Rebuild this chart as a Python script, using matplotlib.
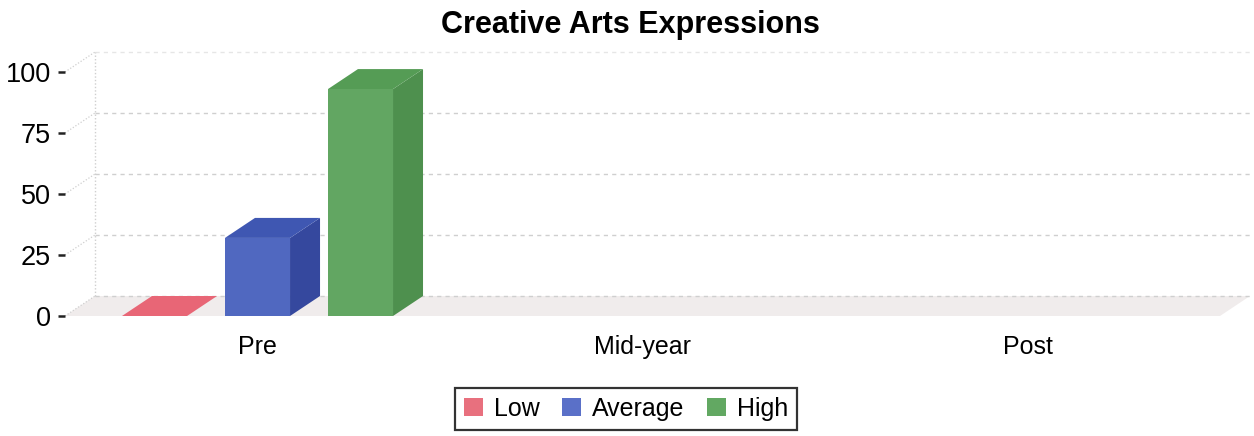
import matplotlib
matplotlib.use("Agg")
import matplotlib.pyplot as plt
from matplotlib.patches import Polygon, Patch
import numpy as np

categories = ["Pre", "Mid-year", "Post"]
series_names = ["Low", "Average", "High"]
low_vals = [0, 0, 0]
avg_vals = [32, 0, 0]
high_vals = [93, 0, 0]
y_ticks = [0, 25, 50, 75, 100]

plt.rcParams['font.family'] = ['Liberation Sans', 'DejaVu Sans']

W, H = 1254, 436
fig = plt.figure(figsize=(W / 100, H / 100), dpi=100)
# front plane of the plot in pixels
x_left, x_right = 65, 1220
y_zero, y_top = 316, 72
ax = fig.add_axes([x_left / W, (H - y_zero) / H, (x_right - x_left) / W, (y_zero - y_top) / H])
ax.set_xlim(-0.5, 2.5)
ax.set_ylim(0, 100)

px_x = 3.0 / (x_right - x_left)
px_y = 100.0 / (y_zero - y_top)
dx = 30 * px_x
dy = 20 * px_y

grid_c = "#cfcfcf"
# floor
ax.add_patch(Polygon([(-0.5, 0), (2.5, 0), (2.5 + dx, dy), (-0.5 + dx, dy)],
                     closed=True, facecolor="#f0ecec", edgecolor="none", clip_on=False, zorder=1))
# back wall gridlines and left wall diagonals
for t in y_ticks:
    ax.plot([-0.5 + dx, 2.5 + dx], [t + dy, t + dy], color=grid_c if t < 100 else "#e6e6e6", lw=1.0,
            ls=(0, (3, 3)), clip_on=False, zorder=1.5)
    ax.plot([-0.5, -0.5 + dx], [t, t + dy], color=grid_c, lw=0.9,
            ls=(0, (1, 1.5)), clip_on=False, zorder=1.5)
ax.plot([-0.5 + dx, -0.5 + dx], [dy, 100 + dy], color=grid_c, lw=1.0,
        ls=(0, (1, 1.5)), clip_on=False, zorder=1.5)

colors = {
    "Low": ("#e86a7a", "#e86676", "#d45566"),
    "Average": ("#5068c0", "#3f57b2", "#35489e"),
    "High": ("#62a662", "#559c55", "#4e904e"),
}
legend_colors = ["#e8707e", "#5a70c8", "#62a862"]

x = np.arange(len(categories))
width = 0.169
offset = 0.2675
all_vals = [low_vals, avg_vals, high_vals]
for i, (name, vals) in enumerate(zip(series_names, all_vals)):
    front, top, side = colors[name]
    xs = x + (i - 1) * offset
    for xc, v in zip(xs, vals):
        if v <= 0 and name != "Low":
            continue
        if v <= 0 and xc > 0.5:
            continue
        x0, x1 = xc - width / 2, xc + width / 2
        zo = 3 + i
        if v > 0:
            ax.add_patch(Polygon([(x1, 0), (x1 + dx, dy), (x1 + dx, v + dy), (x1, v)],
                                 closed=True, facecolor=side, edgecolor="none", clip_on=False, zorder=zo))
        ax.add_patch(Polygon([(x0, v), (x1, v), (x1 + dx, v + dy), (x0 + dx, v + dy)],
                             closed=True, facecolor=top, edgecolor="none", clip_on=False, zorder=zo))
    ax.bar(xs, vals, width=width, color=front, edgecolor="none", zorder=3 + i)

for s in ax.spines.values():
    s.set_visible(False)
ax.set_xticks(x)
ax.set_xticklabels(categories, fontsize=18)
ax.tick_params(axis="x", length=0, pad=14)
ax.set_yticks(y_ticks)
ax.set_yticklabels([str(t) for t in y_ticks], fontsize=19.5)
ax.tick_params(axis="y", length=5, width=1.8, pad=5, direction="out", color="#222222")

fig.text(630 / W, 1 - 25 / H, "Creative Arts Expressions", ha="center", va="center",
         fontsize=22, fontweight="bold")

handles = [Patch(facecolor=c, edgecolor="none") for c in legend_colors]
leg = fig.legend(handles, series_names, loc="center", bbox_to_anchor=(626 / W, 1 - 409 / H),
                 ncol=3, fontsize=18, frameon=True, fancybox=False, handlelength=0.75,
                 handleheight=0.75, handletextpad=0.45, columnspacing=0.9, borderpad=0.35)
leg.get_frame().set_edgecolor("black")
leg.get_frame().set_linewidth(1.6)

fig.savefig("out.png", dpi=100)
